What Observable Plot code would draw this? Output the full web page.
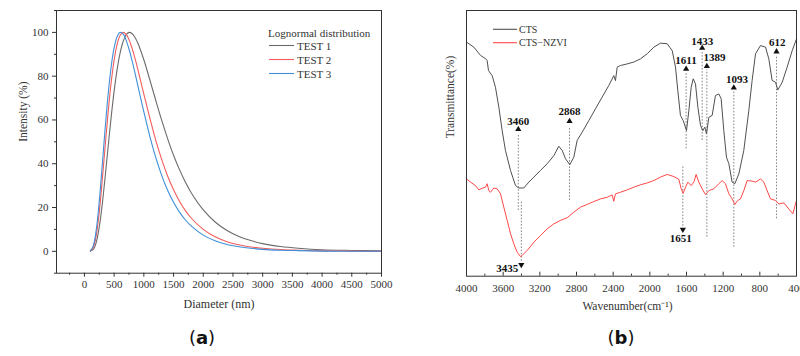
<!DOCTYPE html>
<html><head><meta charset="utf-8">
<script src="https://cdn.jsdelivr.net/npm/d3@7"></script>
<script src="https://cdn.jsdelivr.net/npm/@observablehq/plot@0.6"></script>
<style>
html,body{margin:0;padding:0;background:#fff;}
#wrap{position:relative;width:800px;height:356px;overflow:hidden;background:#fff;}
#wrap > svg, #wrap > div{position:absolute;}
</style></head><body><div id="wrap"></div>
<script>
// ---------- Panel (a): lognormal size distribution ----------
const seriesA = ["TEST 1", "TEST 2", "TEST 3"];
const diameter = [100,150,200,250,300,350,400,450,500,550,600,650,700,750,800,850,900,1000,1100,1200,1300,1400,1500,1600,1700,1800,2000,2200,2400,2600,2800,3000,3300,3600,4000,4500,5000];
const test1 = [0.1,0.9,4.2,11.1,21.5,34.3,48.0,61.3,73.2,83.0,90.5,95.7,98.8,100,99.5,97.8,95.0,87.5,78.4,69.0,59.9,51.5,43.9,37.3,31.6,26.6,18.9,13.4,9.5,6.8,4.9,3.5,2.2,1.4,0.7,0.4,0.2];
const test2 = [0.1,1.8,7.4,18.0,32.4,48.4,63.8,77.1,87.4,94.5,98.6,100,99.2,96.7,92.9,88.2,83.0,71.8,60.9,50.8,42.0,34.4,28.1,22.9,18.6,15.1,10.0,6.6,4.4,3.0,2.0,1.4,0.8,0.5,0.2,0.1,0.0];
const test3 = [0.2,2.6,10.0,23.0,39.4,56.5,72.0,84.3,93.0,98.0,100,99.3,96.6,92.4,87.3,81.6,75.6,63.7,52.6,42.9,34.7,27.9,22.4,17.9,14.3,11.5,7.4,4.8,3.1,2.1,1.4,0.9,0.5,0.3,0.1,0.05,0.0];
const xMajorA = [0,500,1000,1500,2000,2500,3000,3500,4000,4500,5000];
const xMinorA = [-250,250,750,1250,1750,2250,2750,3250,3750,4250,4750];
const yMajorA = [0,20,40,60,80,100];
const yMinorA = [-10,10,30,50,70,90,110];
const xLabelA = "Diameter (nm)";
const yLabelA = "Intensity (%)";
const legendTitleA = "Lognormal distribution";
const colorsA = ["#6b6b6b", "#f25c5c", "#3f8fd8"];

// ---------- Panel (b): FTIR spectra ----------
const seriesB = ["CTS", "CTS\u2212NZVI"];
const colorsB = ["#505050", "#ff4747"];
const wnCTS = [4000,3920,3847,3790,3775,3760,3720,3684,3647,3611,3575,3520,3465,3429,3375,3320,3265,3193,3120,3047,2993,2956,2920,2873,2829,2793,2738,2665,2593,2520,2447,2393,2375,2356,2320,2247,2175,2102,2029,1956,1884,1811,1756,1720,1695,1666,1636,1600,1574,1549,1527,1502,1476,1447,1422,1400,1382,1356,1320,1284,1247,1222,1193,1164,1138,1102,1073,1029,975,920,884,847,793,738,702,666,629,604,556,502,447,400];
const tCTS = [88.1,86.2,83.1,81.8,81.2,77.4,75.5,71.1,63.6,54.8,47.3,39.8,34.1,33.2,33.2,35.4,37.3,39.8,42.3,45.4,48.9,47.3,44.2,42.0,44.8,51.1,54.2,58.6,63.0,67.4,71.8,75.5,73.6,78.7,79.3,79.9,80.6,81.8,83.7,86.2,87.7,87.5,84.9,78.7,69.9,60.5,58.6,54.8,62.4,71.1,74.3,72.4,63.6,56.7,54.8,56.1,53.6,59.8,60.5,68.0,68.6,66.8,54.8,44.8,42.3,35.4,34.8,38.5,47.3,62.4,73.7,83.7,86.8,86.2,81.8,73.7,73.0,70.1,73.0,78.7,84.9,89.3];
const wnNZVI = [4000,3956,3902,3865,3829,3793,3775,3756,3738,3702,3665,3629,3593,3556,3520,3484,3447,3411,3393,3338,3265,3193,3120,3047,2975,2902,2829,2756,2684,2611,2538,2465,2411,2393,2375,2320,2247,2175,2102,2029,1956,1884,1811,1738,1684,1658,1636,1611,1585,1549,1520,1495,1466,1429,1393,1356,1302,1247,1211,1175,1138,1102,1073,1040,1011,975,938,884,847,793,756,720,684,629,593,538,484,440,415,400];
const tNZVI = [36.6,35.4,34.1,32.5,33.1,33.5,34.8,32.2,31.6,33.2,32.9,31.0,26.0,21.0,16.0,12.2,9.0,7.4,7.8,9.7,12.8,15.3,17.8,19.7,21.0,22.0,24.1,26.0,27.0,28.1,29.1,29.7,30.6,28.2,31.0,31.6,32.5,33.5,34.4,35.1,36.0,37.3,38.3,37.5,36.5,32.9,31.2,33.5,35.4,34.1,35.4,38.3,35.4,32.9,30.7,32.2,32.9,34.8,36.0,34.8,31.0,29.1,27.0,28.5,29.1,32.2,36.0,35.8,35.4,36.6,35.4,32.2,29.1,28.5,27.2,27.6,25.3,23.5,26.6,28.5];
const xMajorB = [4000,3600,3200,2800,2400,2000,1600,1200,800,400];
const xMinorB = [3800,3400,3000,2600,2200,1800,1400,1000,600];
const xLabelB = "Wavenumber(cm\u207B\u00B9)";
const yLabelB = "Transmittance(%)";
// peak annotations
const annLabel = ["3460","2868","1611","1433","1389","1093","612","1651","3435"];
const annLineX = [3435,2876,1604,1429,1378,1084,618,1640,3402];
const annLineTop = [53.2,56.2,76.5,84.5,77.6,69.4,83.1,41.7,28.2];
const annLineBottom = [24.7,28.5,47.9,51.1,14.7,10.9,21.6,18.8,5.6];
const annArrowT = [55.3,58.3,78.0,85.9,79.0,70.9,84.5,17.6,4.3];
const annDir = ["up","up","up","up","up","up","up","down","down"];
const annTextX = [3435,2876,1606,1429,1295,1050,609,1662,3556];
const annTextT = [58.1,62.1,81.2,88.4,82.4,73.9,87.8,14.3,3.0];

const SERIF = '"Liberation Serif","Times New Roman",Times,serif';
const plain = d => String(d);
const wrap = document.getElementById("wrap");

// ---------- build (a) ----------
const rowsA = [];
diameter.forEach((d, i) => {
  rowsA.push({series: seriesA[0], d, v: test1[i]});
  rowsA.push({series: seriesA[1], d, v: test2[i]});
  rowsA.push({series: seriesA[2], d, v: test3[i]});
});
const plotA = Plot.plot({
  width: 400, height: 320,
  marginLeft: 56, marginRight: 19, marginTop: 10, marginBottom: 47.3,
  style: {fontFamily: SERIF, fontSize: "11px", color: "#333", background: "transparent"},
  x: {domain: [-470, 5000]},
  y: {domain: [-10, 110]},
  color: {domain: seriesA, range: colorsA},
  marks: [
    Plot.axisX(xMajorA, {tickSize: 4, tickPadding: 3, tickFormat: plain, label: null}),
    Plot.axisX(xMinorA, {tickSize: 2, tickFormat: () => "", label: null}),
    Plot.axisY(yMajorA, {tickSize: 4, tickPadding: 4, tickFormat: plain, label: null}),
    Plot.axisY(yMinorA, {tickSize: 2, tickFormat: () => "", label: null}),
    Plot.line(rowsA, {x: "d", y: "v", z: "series", stroke: "series", curve: "catmull-rom", strokeWidth: 1.1}),
    Plot.frame({stroke: "#333", strokeWidth: 1}),
    Plot.text([xLabelA], {text: d => d, frameAnchor: "bottom", dy: 35, fontSize: 12, fill: "#333"}),
    Plot.text([yLabelA], {text: d => d, frameAnchor: "left", dx: -33, rotate: -90, fontSize: 11.5, fill: "#333"})
  ]
});
plotA.style.left = "0px"; plotA.style.top = "0px";
wrap.appendChild(plotA);

// ---------- build (b) ----------
const frameHB = 320 - 10 - 44.3;
const plotB = Plot.plot({
  width: 400, height: 320,
  marginLeft: 66, marginRight: 4, marginTop: 10, marginBottom: 44.3,
  style: {fontFamily: SERIF, fontSize: "11px", color: "#333", background: "transparent"},
  x: {domain: [4000, 400]},
  y: {domain: [0, 100], axis: null},
  marks: [
    Plot.ruleX(xMinorB, {stroke: "#333", insetTop: frameHB - 2}),
    Plot.ruleX(xMajorB, {stroke: "#333", insetTop: frameHB - 4}),
    Plot.axisX(xMajorB, {tickSize: 0, tickPadding: 8, tickFormat: plain, label: null}),
    Plot.ruleX(annLabel, {x: annLineX, y1: annLineBottom, y2: annLineTop, stroke: "#777", strokeWidth: 0.9, strokeDasharray: "1.6,1.6"}),
    Plot.line(tNZVI, {x: wnNZVI, y: tNZVI, stroke: colorsB[1], strokeWidth: 1}),
    Plot.line(tCTS, {x: wnCTS, y: tCTS, stroke: colorsB[0], strokeWidth: 1}),
    Plot.dot(annLabel, {x: annLineX, y: annArrowT, symbol: "triangle", r: 2.3, fill: "#111", stroke: "none", rotate: annDir.map(d => d === "up" ? 0 : 180)}),
    Plot.text(annLabel, {x: annTextX, y: annTextT, text: d => d, fontWeight: "bold", fontSize: 11, fill: "#111"}),
    Plot.frame({stroke: "#333", strokeWidth: 1}),
    Plot.text([xLabelB], {text: d => d, frameAnchor: "bottom", dy: 34, dx: -4, fontSize: 11.5, fill: "#333"}),
    Plot.text([yLabelB], {text: d => d, frameAnchor: "left", dx: -16, dy: -5, rotate: -90, fontSize: 11.5, fill: "#333"})
  ]
});
plotB.style.left = "400px"; plotB.style.top = "0px";
wrap.appendChild(plotB);

// ---------- legends and panel captions ----------
const NS = "http://www.w3.org/2000/svg";
const ov = document.createElementNS(NS, "svg");
ov.setAttribute("width", 800); ov.setAttribute("height", 356);
ov.style.left = "0px"; ov.style.top = "0px"; ov.style.pointerEvents = "none";
wrap.appendChild(ov);
function addText(x, y, str, opts = {}) {
  const t = document.createElementNS(NS, "text");
  t.setAttribute("x", x); t.setAttribute("y", y);
  t.setAttribute("dominant-baseline", "central");
  t.setAttribute("font-family", opts.family || SERIF);
  t.setAttribute("font-size", opts.size || 11);
  t.setAttribute("fill", opts.fill || "#333");
  if (opts.anchor) t.setAttribute("text-anchor", opts.anchor);
  if (opts.weight) t.setAttribute("font-weight", opts.weight);
  t.textContent = str;
  ov.appendChild(t);
  return t;
}
function addLine(x1, x2, y, color) {
  const l = document.createElementNS(NS, "line");
  l.setAttribute("x1", x1); l.setAttribute("x2", x2);
  l.setAttribute("y1", y); l.setAttribute("y2", y);
  l.setAttribute("stroke", color); l.setAttribute("stroke-width", 1.1);
  ov.appendChild(l);
}
addText(268, 32.5, legendTitleA, {size: 11});
seriesA.forEach((s, i) => {
  const y = 45.5 + i * 14;
  addLine(269, 294, y, colorsA[i]);
  addText(297, y, s, {size: 11});
});
seriesB.forEach((s, i) => {
  const y = 29.3 + i * 13.4;
  addLine(493, 517, y, colorsB[i]);
  addText(519, y, s, {size: 10});
});
function caption(x, letter) {
  const t = addText(x, 337, "", {size: 18, anchor: "middle", fill: "#111", family: '"DejaVu Sans", sans-serif'});
  const a = document.createElementNS(NS, "tspan"); a.textContent = "("; t.appendChild(a);
  const b = document.createElementNS(NS, "tspan"); b.textContent = letter; b.setAttribute("font-weight", "bold"); t.appendChild(b);
  const c = document.createElementNS(NS, "tspan"); c.textContent = ")"; t.appendChild(c);
}
caption(202, "a");
caption(621, "b");
</script></body></html>
